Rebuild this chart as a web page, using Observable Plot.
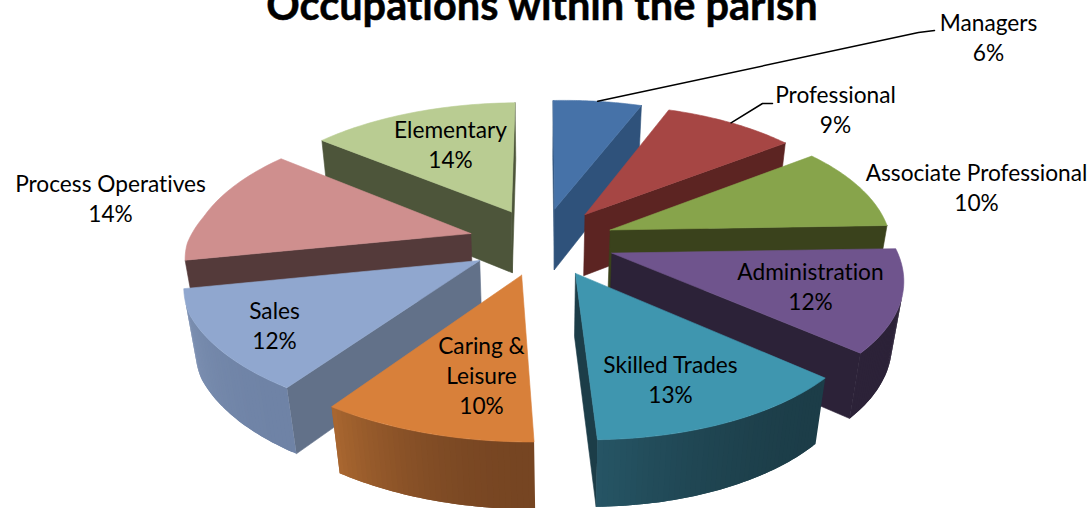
<!DOCTYPE html>
<html><head><meta charset="utf-8">
<script src="https://cdn.jsdelivr.net/npm/d3@7"></script>
<script src="https://cdn.jsdelivr.net/npm/@observablehq/plot@0.6"></script>
<style>html,body{margin:0;padding:0;background:#fff;overflow:hidden} svg text{font-variant-ligatures:none}</style>
</head><body><div id="chart"></div>
<script>
const categories = ["Managers","Professional","Associate Professional","Administration","Skilled Trades","Caring & Leisure","Sales","Process Operatives","Elementary"];
const shares = [6,9,10,12,13,10,12,14,14];
const topColors = ["#4672A8","#A64644","#87A44B","#6F548D","#3F96AF","#D8803A","#90A7CF","#CF8F8E","#B9CC92"];
const wallColors = ["#2F527B","#5C2422","#3A421C","#2C2238","#1C3D48","#764522","#627189","#543A3A","#4D553A"];
const arcFrom = ["#2F527B","#5C2422","#3A421C","#2C2238","#1C3D48","#764522","#6F83A6","#543A3A","#4D553A"];
const arcTo = ["#2F527B","#5C2422","#3A421C","#2C2238","#265565","#A96730","#8295B6","#543A3A","#4D553A"];
const labelText = ["Managers\n6%","Professional\n9%","Associate Professional\n10%","Administration\n12%","Skilled Trades\n13%","Caring &\nLeisure\n10%","Sales\n12%","Process Operatives\n14%","Elementary\n14%"];
const labelX = [988,835,976,810,670,481,274,110,450];
const labelY = [38,110,188,287,380,376,326,199,145];

// view model for the 3-D pie
const cx = 541, cy = 241, R = 280, explodeX = 73, explodeY = 72, tilt = 0.473, depthScale = 1967, shear = 0.06, thick = 64;
const rad = d => d * Math.PI / 180;
function project(X, Y, Z) {
  const s = 1 / (1 - (Y + Z) / depthScale);
  const leftStretch = X < 0 ? 0.04 * X * Math.max(0, Math.min(1, (Y + 60) / 200)) : 0;
  const roll = X > 0 ? 0.016 * X : 0.006 * X;
  return [cx + X * s + shear * Math.max(Y, 0) + leftStretch, cy + (Y * tilt - Z) * s - roll];
}
const total = d3.sum(shares);
let acc = 0;
const slices = shares.map((v, i) => {
  const a = acc / total * 360; acc += v; const b = acc / total * 360;
  const mid = (a + b) / 2;
  const ox = explodeX * Math.sin(rad(mid)), oy = -explodeY * Math.cos(rad(mid));
  const rim = (t, z) => project(ox + R * Math.sin(rad(t)), oy - R * Math.cos(rad(t)), z);
  const apex = z => project(ox, oy, z);
  return {i, a, b, mid, oy, rim, apex};
});
const faces = [];
let faceId = 0;
function shoelace(p) { return d3.sum(p, (q, i) => { const r = p[(i + 1) % p.length]; return q[0] * r[1] - r[0] * q[1]; }); }
function addFace(pts, color, outline, always) {
  if (!always && shoelace(pts) >= 0) return;
  const id = faceId++;
  [...pts, pts[0]].forEach(p => faces.push({id, px: p[0], py: p[1], color, outline}));
}
[...slices].sort((p, q) => p.oy - q.oy).forEach(s => {
  const {i, a, b, rim, apex} = s;
  addFace([apex(0), rim(a, 0), rim(a, -thick), apex(-thick)], wallColors[i], wallColors[i]);
  addFace([rim(b, 0), apex(0), apex(-thick), rim(b, -thick)], wallColors[i], wallColors[i]);
  const n = Math.ceil((b - a) / 1);
  const mix = d3.interpolateRgb(arcFrom[i], arcTo[i]);
  for (let k = 0; k < n; k++) {
    const t1 = a + (b - a) * k / n, t2 = Math.min(b, a + (b - a) * (k + 2) / n);
    const t = (k + .5) / n;
    // one fine strip per degree, each overlapping the next, so no seams show
    const strip = [];
    for (const u of [t1, (t1 + t2) / 2, t2]) strip.push(rim(u, 0));
    for (const u of [t2, (t1 + t2) / 2, t1]) strip.push(rim(u, -thick));
    const facing = shoelace([rim(t1, 0), rim(t2, 0), rim(t2, -thick), rim(t1, -thick)]);
    if (facing < 0) addFace(strip, mix(t * t), "none", true);
  }
  const top = [apex(0)];
  for (let k = 0; k <= 40; k++) top.push(rim(a + (b - a) * k / 40, 0));
  addFace(top, topColors[i], topColors[i], true);
});

// leader lines: from the slice rim to the elbow beside the label
const managersAnchor = slices[0].rim(slices[0].a + 0.5 * (slices[0].b - slices[0].a), 0);
const professionalAnchor = slices[1].rim(slices[1].a + 0.5 * (slices[1].b - slices[1].a), 0);
const leaders = [
  {id: 0, px: managersAnchor[0], py: managersAnchor[1]}, {id: 0, px: 918, py: 32}, {id: 0, px: 934, py: 30},
  {id: 1, px: professionalAnchor[0], py: professionalAnchor[1]}, {id: 1, px: 762, py: 103}, {id: 1, px: 772, py: 103}
];
const labels = categories.map((c, i) => ({t: labelText[i], x: labelX[i], y: labelY[i] - 2.5}));

const chart = Plot.plot({
  width: 1092, height: 508, margin: 0,
  style: {background: "#fff", fontFamily: "Lato, sans-serif"},
  x: {domain: [0, 1092], range: [0, 1092], axis: null},
  y: {domain: [0, 508], range: [0, 508], axis: null},
  marks: [
    Plot.line(faces, {x: "px", y: "py", z: "id", fill: "color", stroke: "outline", strokeWidth: 0.6, curve: "linear"}),
    Plot.line(leaders, {x: "px", y: "py", z: "id", stroke: "#000", strokeWidth: 1.5, curve: "linear"}),
    Plot.text(labels, {x: "x", y: "y", text: "t", fontSize: 22.7, lineHeight: 1.32, fill: "#000", textAnchor: "middle", fontFamily: "Lato, sans-serif"}),
    Plot.text(["Occupations within the parish"], {x: () => 541.5, y: () => 6, text: d => d, fontSize: 41.5, fontWeight: "bold", fill: "#000", stroke: "#000", strokeWidth: 0.5, textAnchor: "middle", fontFamily: "Lato, sans-serif"})
  ]
});
document.getElementById("chart").appendChild(chart);
</script></body></html>
